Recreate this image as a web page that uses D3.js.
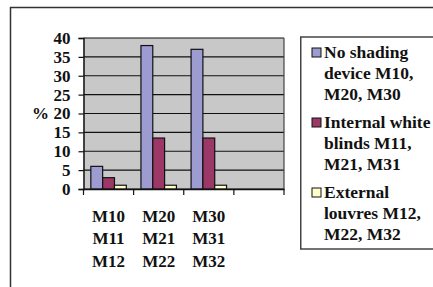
<!DOCTYPE html>
<html>
<head>
<meta charset="utf-8">
<script src="https://cdn.jsdelivr.net/npm/d3@7"></script>
<style>
  html, body { margin: 0; padding: 0; background: #fff; }
  svg { display: block; }
</style>
</head>
<body>
<svg id="chart" width="433" height="287"></svg>
<script>
"use strict";

/* shading cases, one group per model set; last slot stays empty like the original */
const CATEGORIES = [["M10", "M11", "M12"], ["M20", "M21", "M22"], ["M30", "M31", "M32"], []];
const SERIES = ["No shading device M10, M20, M30", "Internal white blinds M11, M21, M31", "External louvres M12, M22, M32"];
const LEGEND_LINES = [["No shading", "device M10,", "M20, M30"], ["Internal white", "blinds M11,", "M21, M31"], ["External", "louvres M12,", "M22, M32"]];
const NO_SHADING = [6, 38, 37];
const INTERNAL_BLINDS = [3, 13.5, 13.5];
const EXTERNAL_LOUVRES = [1, 1, 1];
const Y_TICKS = [0, 5, 10, 15, 20, 25, 30, 35, 40];

const COLORS = ["#9c9cd0", "#9b3868", "#ffffcc"];
const FONT = "Liberation Serif, Times New Roman, serif";

const svg = d3.select("#chart")
  .attr("font-family", FONT)
  .attr("font-weight", "bold");
const plot = { left: 83.5, right: 284, top: 38, bottom: 189 };

/* outer chart frame, cut off on the right and bottom like the picture */
svg.append("rect")
  .attr("x", 10.5).attr("y", 7.5).attr("width", 440).attr("height", 300)
  .attr("fill", "#fff").attr("stroke", "#333").attr("stroke-width", 1.5);

const x = d3.scaleBand(d3.range(CATEGORIES.length), [plot.left, plot.right]);
const xs = d3.scaleBand(d3.range(SERIES.length), [0, x.bandwidth()]).paddingOuter(0.62);
const y = d3.scaleLinear([0, 40], [plot.bottom, plot.top]);

/* plot area */
svg.append("rect")
  .attr("x", plot.left).attr("y", plot.top)
  .attr("width", plot.right - plot.left).attr("height", plot.bottom - plot.top)
  .attr("fill", "#c8c8c8");

svg.append("g")
  .selectAll("line")
  .data(Y_TICKS)
  .join("line")
  .attr("x1", plot.left).attr("x2", plot.right)
  .attr("y1", (d) => y(d)).attr("y2", (d) => y(d))
  .attr("stroke", "#111").attr("stroke-width", 1.2);

svg.append("line")
  .attr("x1", plot.right).attr("x2", plot.right)
  .attr("y1", plot.top).attr("y2", plot.bottom)
  .attr("stroke", "#444").attr("stroke-width", 1.2);

/* bars */
const values = [NO_SHADING, INTERNAL_BLINDS, EXTERNAL_LOUVRES];
const rows = [];
values.forEach((vals, s) => vals.forEach((v, c) => rows.push({ s, c, v })));

svg.append("g")
  .selectAll("rect")
  .data(rows)
  .join("rect")
  .attr("x", (d) => x(d.c) + xs(d.s))
  .attr("y", (d) => y(d.v))
  .attr("width", xs.bandwidth())
  .attr("height", (d) => y(0) - y(d.v))
  .attr("fill", (d) => COLORS[d.s])
  .attr("stroke", "#111").attr("stroke-width", 1.2);

/* axes */
const yAxis = svg.append("g")
  .attr("transform", `translate(${plot.left},0)`)
  .call(d3.axisLeft(y).tickValues(Y_TICKS).tickSize(5).tickPadding(8).tickFormat(d3.format("d")))
  .attr("font-family", FONT)
  .attr("font-size", 17);
yAxis.select(".domain").attr("stroke", "#111").attr("stroke-width", 1.5);
yAxis.selectAll(".tick line").attr("stroke", "#111").attr("stroke-width", 1.2);
yAxis.selectAll("text").attr("fill", "#111");

svg.append("text")
  .attr("x", 32).attr("y", y(20)).attr("dy", "0.32em")
  .attr("font-size", 17)
  .attr("fill", "#111")
  .text("%");

const xAxis = svg.append("g")
  .attr("transform", `translate(0,${plot.bottom})`)
  .call(d3.axisBottom(x).tickValues([]).tickSizeOuter(0));
xAxis.select(".domain").attr("stroke", "#111").attr("stroke-width", 1.5);

svg.append("g")
  .selectAll("line")
  .data(d3.range(CATEGORIES.length + 1))
  .join("line")
  .attr("x1", (i) => plot.left + i * x.step()).attr("x2", (i) => plot.left + i * x.step())
  .attr("y1", plot.bottom).attr("y2", plot.bottom + 6)
  .attr("stroke", "#111").attr("stroke-width", 1.2);

const catLabel = svg.append("g")
  .selectAll("text")
  .data(CATEGORIES)
  .join("text")
  .attr("text-anchor", "middle")
  .attr("font-size", 17)
  .attr("fill", "#111");
catLabel.selectAll("tspan")
  .data((d, i) => d.map((t) => ({ t, i })))
  .join("tspan")
  .attr("x", (d) => x(d.i) + x.bandwidth() / 2)
  .attr("y", (d, j) => 221.5 + j * 22.8)
  .text((d) => d.t);

/* legend */
svg.append("rect")
  .attr("x", 300.75).attr("y", 37).attr("width", 150).attr("height", 212)
  .attr("fill", "#fff").attr("stroke", "#444").attr("stroke-width", 1.5);

const entry = svg.append("g")
  .selectAll("g")
  .data(SERIES)
  .join("g")
  .attr("transform", (d, i) => `translate(0,${58 + i * 70})`);

entry.append("rect")
  .attr("x", 312).attr("y", -10).attr("width", 9).attr("height", 9)
  .attr("fill", (d, i) => COLORS[i])
  .attr("stroke", "#111").attr("stroke-width", 1);

entry.append("text")
  .attr("font-size", 17.5)
  .attr("fill", "#111")
  .selectAll("tspan")
  .data((d, i) => LEGEND_LINES[i])
  .join("tspan")
  .attr("x", 324)
  .attr("y", (d, j) => j * 21)
  .text((d) => d);
</script>
</body>
</html>
